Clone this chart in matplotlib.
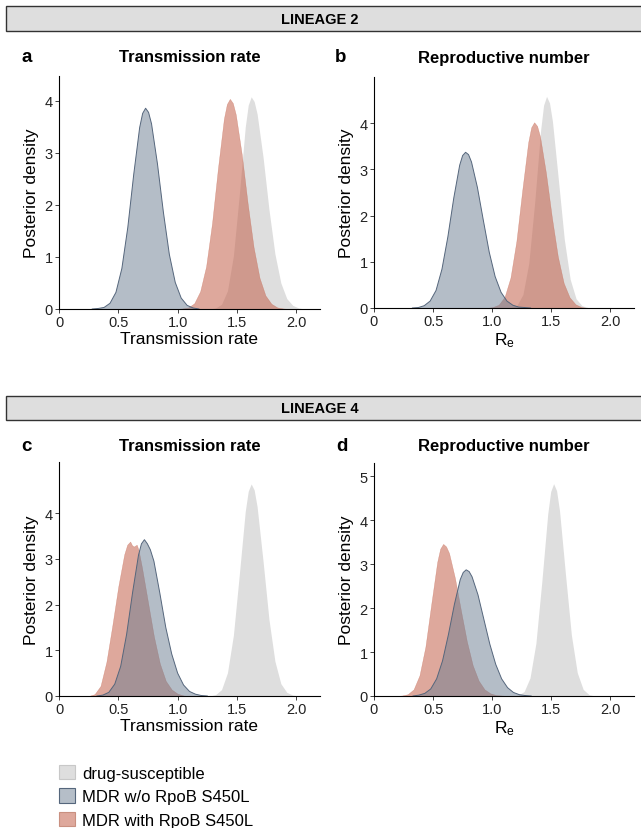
import matplotlib
matplotlib.use("Agg")
import matplotlib.pyplot as plt
from matplotlib.patches import Rectangle, Patch

plt.rcParams['font.family'] = ['Liberation Sans', 'DejaVu Sans']

# ---- data (posterior density curves) ----
# panel a: lineage 2, transmission rate
a_ds_x = [1.27, 1.32, 1.37, 1.42, 1.47, 1.52, 1.57, 1.595, 1.62, 1.645, 1.67, 1.72, 1.77, 1.82, 1.87, 1.92, 1.97, 2.02, 2.07]
a_ds_y = [0.0, 0.02, 0.09, 0.35, 1.02, 2.20, 3.50, 3.92, 4.08, 3.99, 3.75, 2.92, 1.91, 1.06, 0.50, 0.20, 0.07, 0.02, 0.0]
a_wo_x = [0.28, 0.33, 0.38, 0.43, 0.48, 0.53, 0.58, 0.63, 0.68, 0.705, 0.73, 0.755, 0.78, 0.83, 0.88, 0.93, 0.98, 1.03, 1.08, 1.13, 1.18]
a_wo_y = [0.0, 0.01, 0.03, 0.11, 0.32, 0.78, 1.57, 2.59, 3.49, 3.76, 3.86, 3.78, 3.56, 2.79, 1.86, 1.05, 0.51, 0.21, 0.07, 0.02, 0.0]
a_with_x = [0.99, 1.04, 1.09, 1.14, 1.19, 1.24, 1.29, 1.34, 1.39, 1.415, 1.44, 1.465, 1.49, 1.54, 1.59, 1.64, 1.69, 1.74, 1.79, 1.84, 1.89, 1.94]
a_with_y = [0.0, 0.01, 0.03, 0.11, 0.34, 0.82, 1.65, 2.71, 3.66, 3.94, 4.04, 3.96, 3.74, 2.98, 2.03, 1.19, 0.60, 0.26, 0.10, 0.03, 0.01, 0.0]

# panel b: lineage 2, reproductive number
b_ds_x = [1.11, 1.16, 1.21, 1.26, 1.31, 1.36, 1.41, 1.435, 1.46, 1.485, 1.51, 1.56, 1.61, 1.66, 1.71, 1.76, 1.81, 1.86]
b_ds_y = [0.0, 0.01, 0.06, 0.29, 0.97, 2.29, 3.85, 4.39, 4.58, 4.44, 4.04, 2.78, 1.49, 0.62, 0.20, 0.05, 0.01, 0.0]
b_wo_x = [0.325, 0.375, 0.425, 0.475, 0.525, 0.575, 0.625, 0.675, 0.725, 0.75, 0.775, 0.80, 0.825, 0.875, 0.925, 0.975, 1.025, 1.075, 1.125, 1.175, 1.225, 1.275, 1.325]
b_wo_y = [0.0, 0.01, 0.05, 0.15, 0.38, 0.84, 1.54, 2.38, 3.09, 3.30, 3.37, 3.32, 3.16, 2.61, 1.90, 1.21, 0.68, 0.34, 0.15, 0.06, 0.02, 0.01, 0.0]
b_with_x = [0.955, 1.005, 1.055, 1.105, 1.155, 1.205, 1.255, 1.305, 1.33, 1.355, 1.38, 1.405, 1.455, 1.505, 1.555, 1.605, 1.655, 1.705, 1.755, 1.805]
b_with_y = [0.0, 0.02, 0.07, 0.24, 0.66, 1.45, 2.56, 3.59, 3.91, 4.02, 3.94, 3.71, 2.92, 1.96, 1.12, 0.54, 0.23, 0.08, 0.02, 0.0]

# panel c: lineage 4, transmission rate
c_ds_x = [1.27, 1.32, 1.37, 1.42, 1.47, 1.52, 1.57, 1.595, 1.62, 1.645, 1.67, 1.72, 1.77, 1.82, 1.87, 1.92, 1.97, 2.02]
c_ds_y = [0.0, 0.03, 0.14, 0.51, 1.33, 2.66, 4.04, 4.48, 4.64, 4.51, 4.14, 2.95, 1.67, 0.76, 0.27, 0.08, 0.02, 0.0]
c_wo_x = [0.32, 0.37, 0.42, 0.47, 0.52, 0.57, 0.62, 0.67, 0.695, 0.72, 0.745, 0.77, 0.80, 0.85, 0.90, 0.95, 1.00, 1.05, 1.10, 1.15, 1.20, 1.25]
c_wo_y = [0.0, 0.02, 0.08, 0.26, 0.65, 1.35, 2.26, 3.08, 3.33, 3.42, 3.33, 3.20, 2.95, 2.25, 1.50, 0.92, 0.50, 0.24, 0.10, 0.04, 0.01, 0.0]
c_with_x = [0.25, 0.30, 0.35, 0.40, 0.45, 0.50, 0.55, 0.575, 0.60, 0.615, 0.63, 0.655, 0.67, 0.70, 0.75, 0.80, 0.85, 0.90, 0.95, 1.00, 1.05, 1.10]
c_with_y = [0.0, 0.04, 0.22, 0.75, 1.55, 2.40, 3.10, 3.31, 3.38, 3.30, 3.27, 3.31, 3.20, 2.80, 2.05, 1.30, 0.71, 0.33, 0.14, 0.05, 0.01, 0.0]

# panel d: lineage 4, reproductive number
d_ds_x = [1.17, 1.22, 1.27, 1.32, 1.37, 1.42, 1.47, 1.495, 1.52, 1.545, 1.57, 1.62, 1.67, 1.72, 1.77, 1.82, 1.87]
d_ds_y = [0.0, 0.02, 0.10, 0.41, 1.20, 2.60, 4.14, 4.65, 4.83, 4.67, 4.21, 2.77, 1.39, 0.53, 0.15, 0.03, 0.0]
d_wo_x = [0.33, 0.38, 0.43, 0.48, 0.53, 0.58, 0.63, 0.68, 0.73, 0.755, 0.78, 0.805, 0.83, 0.88, 0.93, 0.98, 1.03, 1.08, 1.13, 1.18, 1.23, 1.28, 1.33]
d_wo_y = [0.0, 0.02, 0.06, 0.16, 0.39, 0.80, 1.40, 2.08, 2.65, 2.81, 2.87, 2.83, 2.71, 2.30, 1.74, 1.18, 0.72, 0.39, 0.19, 0.08, 0.03, 0.01, 0.0]
d_with_x = [0.185, 0.235, 0.285, 0.335, 0.385, 0.435, 0.485, 0.535, 0.56, 0.585, 0.61, 0.635, 0.685, 0.735, 0.785, 0.835, 0.885, 0.935, 0.985, 1.035, 1.085, 1.135]
d_with_y = [0.0, 0.01, 0.04, 0.15, 0.47, 1.12, 2.10, 3.05, 3.35, 3.46, 3.40, 3.25, 2.68, 1.95, 1.25, 0.70, 0.35, 0.15, 0.06, 0.02, 0.01, 0.0]

group_labels = ['drug-susceptible', 'MDR w/o RpoB S450L', 'MDR with RpoB S450L']
x_ticks = [0, 0.5, 1.0, 1.5, 2.0]
x_tick_labels = ['0', '0.5', '1.0', '1.5', '2.0']

panels = [
    ('a', 'Transmission rate', 'Transmission rate', (a_ds_x, a_ds_y), (a_wo_x, a_wo_y), (a_with_x, a_with_y), 4.48, [0, 1, 2, 3, 4]),
    ('b', 'Reproductive number', r'$\mathregular{R_e}$', (b_ds_x, b_ds_y), (b_wo_x, b_wo_y), (b_with_x, b_with_y), 5.0, [0, 1, 2, 3, 4]),
    ('c', 'Transmission rate', 'Transmission rate', (c_ds_x, c_ds_y), (c_wo_x, c_wo_y), (c_with_x, c_with_y), 5.12, [0, 1, 2, 3, 4]),
    ('d', 'Reproductive number', r'$\mathregular{R_e}$', (d_ds_x, d_ds_y), (d_wo_x, d_wo_y), (d_with_x, d_with_y), 5.3, [0, 1, 2, 3, 4, 5]),
]

# colours
ds_col = '#dedede'
wo_col = '#6b7d91'
wo_edge = '#55667c'
with_col = '#c3614b'

W, H = 641, 829
fig = plt.figure(figsize=(W / 100, H / 100), dpi=100)

# axes boxes in pixels: left, top, right, bottom
boxes = [(59, 77, 320, 310), (374, 78, 634, 309), (59, 463, 320, 697), (374, 464, 634, 697)]
letter_x = [21, 335, 21, 336]
title_y = [58, 58, 447, 447]

for (letter, title, xlabel, ds, wo, wi, ytop, yticks), (l, t, r, b), lx, ty in zip(panels, boxes, letter_x, title_y):
    ax = fig.add_axes([l / W, 1 - b / H, (r - l) / W, (b - t) / H])
    ax.fill_between(ds[0], ds[1], color=ds_col, linewidth=0)
    ax.fill_between(wi[0], wi[1], facecolor=with_col, alpha=0.55, edgecolor=with_col, linewidth=0.3)
    ax.fill_between(wo[0], wo[1], facecolor=wo_col, alpha=0.5, linewidth=0)
    ax.plot(wo[0], wo[1], color=wo_edge, linewidth=0.7)
    ax.set_xlim(0, 2.2)
    ax.set_ylim(0, ytop)
    ax.set_xticks(x_ticks)
    ax.set_xticklabels(x_tick_labels)
    ax.set_yticks(yticks)
    for s in ['top', 'right']:
        ax.spines[s].set_visible(False)
    for s in ['left', 'bottom']:
        ax.spines[s].set_linewidth(0.8)
    ax.tick_params(length=3, width=0.6, labelsize=10.5, colors='#222222', pad=1.5)
    ax.set_xlabel(xlabel, fontsize=12.5, labelpad=1.5)
    ax.set_ylabel('Posterior density', fontsize=12.5, labelpad=4)
    fig.text((l + r) / 2 / W, 1 - ty / H, title, ha='center', va='center', fontsize=12, fontweight='bold')
    fig.text(lx / W, 1 - ty / H, letter, ha='left', va='center', fontsize=13.5, fontweight='bold')

# strip headers
for top, bot, label in [(7, 32, 'LINEAGE 2'), (397, 421, 'LINEAGE 4')]:
    fig.add_artist(Rectangle((6 / W, 1 - bot / H), 1.02, (bot - top) / H, transform=fig.transFigure,
                             facecolor='#dedede', edgecolor='#333333', linewidth=1.0))
    fig.text(320 / W, 1 - (top + bot) / 2 / H, label, ha='center', va='center', fontsize=10.5, fontweight='bold')

handles = [
    Patch(facecolor='#dedede', edgecolor='#c8c8c8', linewidth=0.8),
    Patch(facecolor='#b5bec8', edgecolor='#55667c', linewidth=0.8),
    Patch(facecolor='#dea89c', edgecolor='#c99080', linewidth=0.8),
]
fig.legend(handles, group_labels, loc='upper left', bbox_to_anchor=(59 / W, 1 - 766 / H), frameon=False,
           fontsize=12, handlelength=0.95, handleheight=0.95, handletextpad=0.45, labelspacing=0.45,
           borderaxespad=0, borderpad=0)

fig.savefig('out.png', dpi=100)
